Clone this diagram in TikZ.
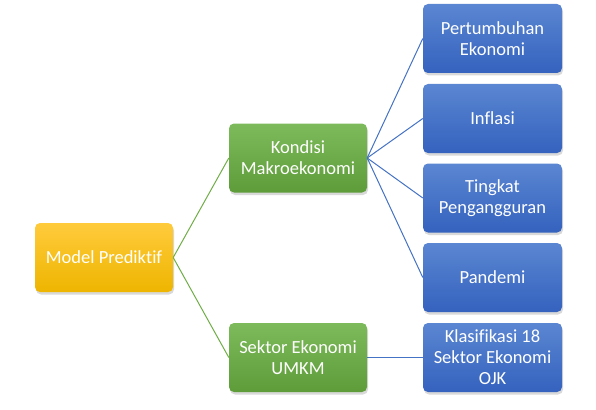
\documentclass[tikz,border=0pt]{standalone}
\usepackage{fontspec}
\setmainfont{Carlito}[Ligatures=NoCommon]
\usetikzlibrary{shadows}

\definecolor{goldTop}{HTML}{FFCB3C}
\definecolor{goldBot}{HTML}{EEB500}
\definecolor{leafTop}{HTML}{7DBA5B}
\definecolor{leafBot}{HTML}{5E9C3A}
\definecolor{leafLine}{HTML}{70AD47}
\definecolor{seaTop}{HTML}{5B86D2}
\definecolor{seaBot}{HTML}{3462BE}
\definecolor{seaLine}{HTML}{4472C4}

\tikzset{
  box/.style={rounded corners=5pt, minimum width=138pt, minimum height=69pt,
    inner sep=2pt, align=center, text=white,
    font=\fontsize{18.5}{21}\selectfont,
    drop shadow={shadow xshift=1pt, shadow yshift=-2.5pt, opacity=0.3}},
  rootbox/.style={box, top color=goldTop, bottom color=goldBot},
  midbox/.style={box, top color=leafTop, bottom color=leafBot},
  leafbox/.style={box, minimum width=139pt, top color=seaTop, bottom color=seaBot},
  greenline/.style={draw=leafLine, line width=1pt},
  blueline/.style={draw=seaLine, line width=1pt}
}

\begin{document}
\begin{tikzpicture}[x=1pt,y=-1pt]
      \useasboundingbox (0,0) rectangle (596,409);
      \node[rootbox] (model) at (104,257.5) {Model Prediktif};
      \node[midbox] (kondisi) at (298,158) {Kondisi\\Makroekonomi};
      \node[midbox] (sektor) at (298,357.5) {Sektor Ekonomi\\UMKM};
      \node[leafbox] (tumbuh) at (492.5,38.5) {Pertumbuhan\\Ekonomi};
      \node[leafbox] (inflasi) at (492.5,118.5) {Inflasi};
      \node[leafbox] (nganggur) at (492.5,198) {Tingkat\\Pengangguran};
      \node[leafbox] (pandemi) at (492.5,277.5) {Pandemi};
      \node[leafbox] (ojk) at (492.5,357.5) {Klasifikasi 18\\Sektor Ekonomi\\OJK};
      \draw[greenline] (model.east) -- (kondisi.west);
      \draw[greenline] (model.east) -- (sektor.west);
      \draw[blueline] (kondisi.east) -- (tumbuh.west);
      \draw[blueline] (kondisi.east) -- (inflasi.west);
      \draw[blueline] (kondisi.east) -- (nganggur.west);
      \draw[blueline] (kondisi.east) -- (pandemi.west);
      \draw[blueline] (sektor.east) -- (ojk.west);
    \end{tikzpicture}
\end{document}
